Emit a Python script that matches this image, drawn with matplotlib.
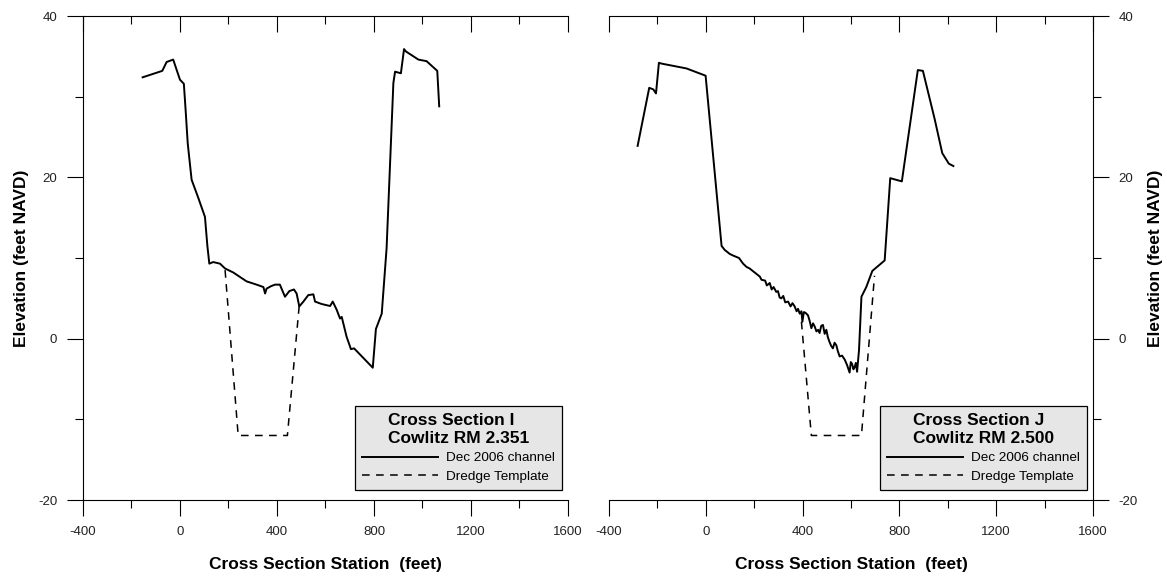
import numpy as np
import matplotlib
matplotlib.use("Agg")
import matplotlib.pyplot as plt

plt.rcParams['font.family'] = ['Liberation Sans', 'DejaVu Sans']
plt.rcParams['axes.unicode_minus'] = False

# Cross Section I (Cowlitz RM 2.351), Dec 2006 channel
i_station = [-154, -73, -55, -28, 0, 16, 24, 32, 48, 75, 103, 113, 121, 137, 165, 186,
             220, 250, 275, 316, 344, 351, 357, 375, 392, 412, 433, 451, 470, 481,
             492, 509, 529, 550, 557, 584, 619, 630, 646, 660, 667, 687, 705, 718,
             795, 808, 832, 852, 880, 887, 911, 924, 932, 983, 1017, 1061, 1069]
i_elev = [32.4, 33.2, 34.3, 34.6, 32.1, 31.6, 28.0, 24.2, 19.7, 17.5, 15.1, 11.5, 9.3, 9.5, 9.3, 8.7,
          8.2, 7.6, 7.1, 6.7, 6.4, 5.6, 6.2, 6.5, 6.7, 6.7, 5.2, 5.9, 6.1, 5.6,
          4.0, 4.6, 5.4, 5.5, 4.6, 4.3, 4.05, 4.6, 3.6, 2.5, 2.7, 0.25, -1.3, -1.2,
          -3.6, 1.2, 3.1, 11.2, 31.7, 33.1, 32.9, 35.9, 35.6, 34.6, 34.4, 33.2, 28.8]
i_tmpl_station = [186, 240, 443, 492]
i_tmpl_elev = [8.5, -12, -12, 4.2]

# Cross Section J (Cowlitz RM 2.500), Dec 2006 channel
j_station = [-282, -234, -217, -206, -194, -183, -80, -1, 65, 78, 99, 113, 137, 154, 168,
             181, 202, 223, 230, 245, 252, 264, 272, 280, 291, 298, 305, 312, 320, 328,
             340, 350, 358, 367, 375, 381, 388, 395, 399, 405, 412, 422, 429, 436, 443,
             450, 457, 464, 470, 477, 484, 491, 498, 504, 511, 518, 525, 532, 539, 546,
             553, 563, 574, 584, 594, 599, 604, 610, 615, 620, 625, 633, 643, 663,
             688, 739, 762, 810, 876, 897, 945, 977, 1004, 1023]
j_elev = [23.9, 31.1, 30.9, 30.4, 34.2, 34.1, 33.5, 32.6, 11.5, 11.0, 10.5, 10.3, 10.0, 9.3, 8.9,
          8.7, 8.2, 7.7, 7.3, 7.2, 6.6, 6.9, 6.1, 6.4, 5.8, 5.9, 5.1, 5.0, 5.3, 4.5,
          4.6, 4.0, 4.4, 4.0, 3.4, 3.7, 3.1, 3.4, 2.1, 3.3, 3.2, 2.9, 2.2, 1.3, 1.9,
          1.5, 0.9, 1.1, 0.7, 1.6, 1.7, 0.6, 1.1, 0.2, -0.4, -0.9, -1.2, -0.5, -0.8, -1.6,
          -2.2, -2.1, -2.6, -3.3, -4.2, -2.9, -3.1, -3.8, -3.5, -3.0, -4.1, -1.4, 5.2, 6.4,
          8.4, 9.7, 19.9, 19.5, 33.3, 33.2, 27.3, 23.0, 21.7, 21.4]
j_tmpl_station = [395, 436, 643, 697]
j_tmpl_elev = [2.1, -12, -12, 7.8]

panels = [
    ("Cross Section I\nCowlitz RM 2.351", i_station, i_elev, i_tmpl_station, i_tmpl_elev, "left"),
    ("Cross Section J\nCowlitz RM 2.500", j_station, j_elev, j_tmpl_station, j_tmpl_elev, "right"),
]

x_major = [-400, 0, 400, 800, 1200, 1600]
x_minor = [-200, 200, 600, 1000, 1400]
y_major = [-20, 0, 20, 40]
y_minor = [-10, 10, 30]

fig = plt.figure(figsize=(11.67, 5.80), dpi=100)
axes_pos = [[0.0711, 0.1379, 0.4156, 0.8345], [0.5219, 0.1379, 0.4147, 0.8345]]

tick_color = '#222222'
for (title, xs, ys, txs, tys, side), pos in zip(panels, axes_pos):
    ax = fig.add_axes(pos)
    ax.plot(xs, ys, color='black', lw=1.4, label='Dec 2006 channel')
    ax.plot(txs, tys, color='black', lw=1.1, dashes=(5, 4.2), label='Dredge Template')

    ax.set_xlim(-400, 1600)
    ax.set_ylim(-20, 40)
    ax.set_xticks(x_major)
    ax.set_xticks(x_minor, minor=True)
    ax.set_yticks(y_major)
    ax.set_yticks(y_minor, minor=True)

    ax.spines['top'].set_visible(False)
    other = 'right' if side == 'left' else 'left'
    ax.spines[other].set_visible(False)
    ax.yaxis.set_ticks_position(side)
    ax.yaxis.set_label_position(side)
    ax.xaxis.set_ticks_position('bottom')

    ax.tick_params(axis='both', which='major', direction='out', length=11.5, width=0.8,
                   colors='black', labelcolor=tick_color, labelsize=9.5, pad=7)
    ax.tick_params(axis='both', which='minor', direction='out', length=5.5, width=0.8)

    # top axis: ticks pointing inward, no labels
    top = ax.secondary_xaxis('top')
    top.set_xticks(x_major)
    top.set_xticks(x_minor, minor=True)
    top.tick_params(which='major', direction='in', length=11.5, width=0.8, labeltop=False)
    top.tick_params(which='minor', direction='in', length=6, width=0.8)
    top.spines['top'].set_linewidth(0.8)
    for s in ['bottom', 'left', 'right']:
        ax.spines[s].set_linewidth(0.8)

    ax.set_xlabel("Cross Section Station  (feet)", fontsize=12.5, fontweight='bold')
    ax.xaxis.set_label_coords(0.5, -0.117)
    ax.set_ylabel("Elevation (feet NAVD)", fontsize=12.5, fontweight='bold',
                  rotation=90)
    if side == 'left':
        ax.yaxis.set_label_coords(-0.112, 0.5)
    else:
        ax.yaxis.set_label_coords(1.114, 0.5)

    leg = ax.legend(title=title, loc='lower right', bbox_to_anchor=(0.988, 0.02),
                    fontsize=9.7, title_fontproperties={'weight': 'bold', 'size': 12.5},
                    facecolor='#e6e6e6', edgecolor='black', framealpha=1, fancybox=False,
                    handlelength=5.6, handletextpad=0.6, borderpad=0.55,
                    labelspacing=0.45, borderaxespad=0)
    leg.get_title().set_linespacing(1.25)
    leg.get_frame().set_linewidth(0.9)

fig.savefig("out.png", dpi=100)
